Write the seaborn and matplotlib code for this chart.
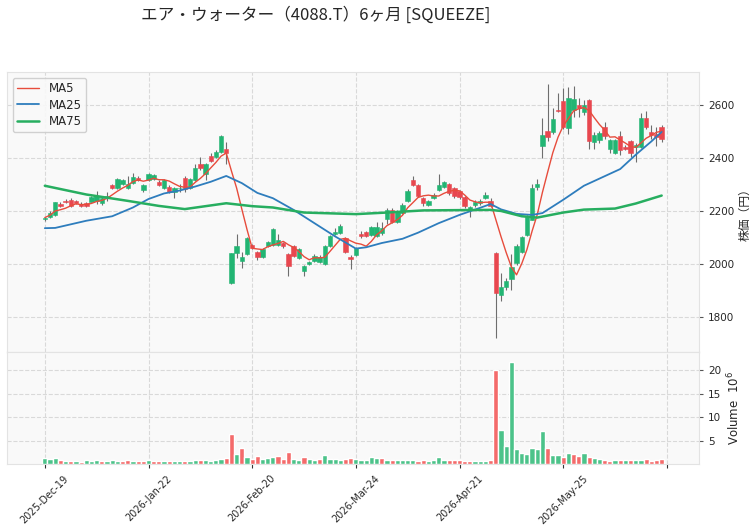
import numpy as np
import pandas as pd
import matplotlib
matplotlib.use("Agg")
import matplotlib.pyplot as plt
import seaborn as sns

# -----------------------------------------------------
# DATA
# -----------------------------------------------------
TITLE = "エア・ウォーター（4088.T）6ヶ月 [SQUEEZE]"

opens = [2168, 2178, 2183, 2227, 2237, 2242, 2238, 2228, 2231, 2235,
         2239, 2230, 2250, 2296, 2285, 2300, 2287, 2305, 2325, 2280,
         2317, 2320, 2311, 2286, 2292, 2270, 2285, 2326, 2286, 2317,
         2377, 2339, 2408, 2404, 2424, 2434, 1928, 2041, 2010, 2037,
         2070, 2047, 2028, 2068, 2072, 2072, 2078, 2038, 2066, 2022,
         1972, 2001, 2010, 2007, 2001, 2068, 2114, 2116, 2097, 2028,
         2035, 2114, 2122, 2110, 2106, 2116, 2169, 2204, 2160, 2192,
         2236, 2317, 2296, 2248, 2223, 2248, 2280, 2292, 2302, 2287,
         2275, 2252, 2204, 2221, 2229, 2248, 2238, 2041, 1884, 1913,
         1945, 2003, 2047, 2110, 2167, 2290, 2445, 2500, 2497, 2581,
         2613, 2512, 2581, 2600, 2572, 2619, 2460, 2466, 2516, 2434,
         2420, 2483, 2440, 2462, 2440, 2443, 2550, 2499, 2492, 2518]
highs = [2178, 2198, 2235, 2232, 2244, 2248, 2242, 2232, 2235, 2258,
         2277, 2256, 2273, 2302, 2326, 2320, 2330, 2342, 2332, 2300,
         2342, 2340, 2318, 2320, 2296, 2290, 2300, 2330, 2324, 2376,
         2402, 2382, 2418, 2428, 2485, 2459, 2041, 2112, 2047, 2100,
         2075, 2050, 2060, 2085, 2134, 2112, 2082, 2042, 2070, 2060,
         1997, 2010, 2036, 2032, 2070, 2108, 2136, 2150, 2100, 2034,
         2064, 2126, 2126, 2142, 2160, 2160, 2210, 2212, 2205, 2230,
         2282, 2330, 2300, 2252, 2240, 2266, 2338, 2314, 2306, 2292,
         2280, 2256, 2218, 2240, 2244, 2272, 2248, 2046, 1966, 1946,
         2037, 2075, 2106, 2185, 2300, 2320, 2552, 2679, 2590, 2646,
         2663, 2668, 2672, 2625, 2618, 2622, 2498, 2500, 2535, 2470,
         2472, 2500, 2448, 2466, 2455, 2568, 2578, 2525, 2518, 2525]
lows = [2163, 2174, 2180, 2214, 2229, 2214, 2226, 2214, 2216, 2232,
        2227, 2224, 2238, 2282, 2282, 2296, 2284, 2300, 2312, 2270,
        2313, 2316, 2294, 2282, 2268, 2250, 2270, 2270, 2282, 2312,
        2355, 2318, 2386, 2400, 2420, 2376, 1925, 2022, 1984, 2034,
        2058, 2016, 2024, 2064, 2068, 2068, 2062, 1953, 2028, 2018,
        1955, 1995, 2006, 2003, 1998, 2064, 2110, 2112, 2043, 1980,
        2030, 2098, 2100, 2106, 2102, 2110, 2150, 2155, 2155, 2188,
        2232, 2294, 2254, 2217, 2218, 2244, 2276, 2288, 2262, 2250,
        2244, 2212, 2178, 2216, 2224, 2244, 2213, 1721, 1859, 1903,
        1900, 1995, 2040, 2104, 2165, 2280, 2399, 2462, 2490, 2575,
        2508, 2490, 2555, 2555, 2560, 2435, 2435, 2455, 2470, 2420,
        2415, 2410, 2430, 2405, 2385, 2438, 2510, 2470, 2445, 2460]
closes = [2175, 2193, 2232, 2218, 2234, 2220, 2230, 2218, 2220, 2254,
          2257, 2250, 2256, 2287, 2322, 2317, 2301, 2327, 2318, 2298,
          2338, 2336, 2299, 2317, 2273, 2286, 2288, 2283, 2320, 2362,
          2361, 2378, 2390, 2424, 2481, 2418, 2041, 2068, 2028, 2097,
          2062, 2028, 2057, 2081, 2131, 2091, 2066, 1993, 2031, 2056,
          1993, 2007, 2031, 2028, 2066, 2104, 2122, 2145, 2047, 2018,
          2060, 2104, 2106, 2139, 2141, 2135, 2202, 2160, 2198, 2223,
          2277, 2298, 2258, 2229, 2236, 2261, 2298, 2308, 2267, 2255,
          2251, 2219, 2214, 2233, 2238, 2261, 2217, 1890, 1912, 1937,
          1990, 2066, 2100, 2177, 2286, 2302, 2487, 2477, 2546, 2577,
          2516, 2625, 2621, 2587, 2600, 2462, 2488, 2493, 2483, 2466,
          2468, 2428, 2435, 2418, 2450, 2550, 2518, 2487, 2478, 2471]
# volume in millions of shares
volumes = [1.3, 1.2, 1.4, 0.9, 0.7, 0.75, 0.7, 0.55, 0.9, 0.75,
           0.9, 0.7, 0.7, 0.9, 0.7, 0.7, 0.9, 0.7, 0.75, 0.75,
           0.9, 0.75, 0.7, 0.7, 0.7, 0.7, 0.7, 0.75, 0.7, 0.9,
           0.9, 0.9, 0.8, 0.9, 1.1, 1.3, 6.4, 2.1, 3.5, 1.5,
           1.2, 1.8, 1.2, 1.4, 1.6, 1.8, 1.2, 2.6, 1.2, 0.9,
           1.6, 1.2, 1.0, 1.2, 1.9, 1.2, 1.2, 1.0, 1.2, 1.4,
           1.2, 1.0, 0.9, 1.6, 1.4, 1.4, 1.0, 0.9, 0.9, 0.9,
           1.0, 1.0, 0.7, 1.0, 0.8, 1.0, 1.5, 1.0, 0.9, 0.9,
           0.9, 0.8, 0.8, 0.7, 0.7, 0.7, 0.9, 20.0, 7.3, 3.9,
           21.6, 3.25, 2.35, 2.1, 3.45, 3.25, 7.05, 3.45, 2.0, 2.0,
           1.6, 2.4, 2.2, 1.8, 2.4, 1.6, 1.4, 1.1, 1.0, 0.7,
           1.0, 1.0, 1.0, 1.0, 1.0, 1.0, 1.1, 0.7, 1.0, 1.2]

# moving averages 25 / 75 read as (bar index, value) knots
ma25_idx = [0, 2, 8, 13, 17, 20, 23, 26, 29, 32, 35, 38, 41, 44, 48, 52,
            56, 60, 62, 65, 69, 72, 76, 80, 84, 86, 88, 91, 94, 96, 100,
            104, 111, 114, 117, 119]
ma25_val = [2135, 2136, 2163, 2180, 2213, 2245, 2266, 2277, 2292, 2310,
            2332, 2305, 2268, 2248, 2204, 2154, 2104, 2058, 2063, 2079,
            2095, 2118, 2154, 2185, 2212, 2226, 2206, 2189, 2185, 2192,
            2242, 2295, 2358, 2412, 2462, 2498]
ma75_idx = [0, 8, 16, 22, 27, 35, 40, 44, 50, 60, 66, 73, 86, 88, 92, 95,
            100, 104, 110, 114, 119]
ma75_val = [2295, 2262, 2238, 2219, 2207, 2229, 2218, 2213, 2194, 2188,
            2194, 2202, 2204, 2200, 2180, 2175, 2194, 2205, 2209, 2228,
            2258]

tick_pos = [0, 20, 40, 60, 80, 100, 120]
tick_labels = ["2025-Dec-19", "2026-Jan-22", "2026-Feb-20", "2026-Mar-24",
               "2026-Apr-21", "2026-May-25", ""]

# -----------------------------------------------------
# PREP
# -----------------------------------------------------
df = pd.DataFrame({"Open": opens, "High": highs, "Low": lows,
                   "Close": closes, "Volume": volumes})
df["x"] = np.arange(len(df))
df["MA5"] = df["Close"].rolling(5, min_periods=1).mean()
up = df["Close"] >= df["Open"]
vol_up = df["Close"].diff().fillna(1) >= 0

UP_C = "#22b573"
DN_C = "#e8474f"
VUP_C = "#4cc38a"
VDN_C = "#f46b6b"

sns.set_style("whitegrid", {"axes.facecolor": "#f9f9f9",
                            "grid.color": "#d9d9d9",
                            "grid.linestyle": "--",
                            "axes.edgecolor": "#e3e3e3"})
plt.rcParams["font.family"] = ["DejaVu Sans", "Noto Sans CJK JP"]

fig = plt.figure(figsize=(7.52, 5.26), dpi=100)
ax = fig.add_axes([0.0093, 0.3308, 0.9202, 0.5323])
axv = fig.add_axes([0.0093, 0.1173, 0.9202, 0.2135], sharex=ax)

# -----------------------------------------------------
# CANDLES
# -----------------------------------------------------
body_h = (df["Close"] - df["Open"]).abs().clip(lower=3)
body_b = df[["Open", "Close"]].min(axis=1)
ax.vlines(df["x"], df["Low"], df["High"], color="#6e6e6e", lw=0.8, zorder=2)
ax.bar(df["x"][up], body_h[up], bottom=body_b[up], width=0.85,
       color=UP_C, edgecolor=UP_C, linewidth=0.4, zorder=3)
ax.bar(df["x"][~up], body_h[~up], bottom=body_b[~up], width=0.85,
       color=DN_C, edgecolor=DN_C, linewidth=0.4, zorder=3)

sns.lineplot(x=df["x"], y=df["MA5"], ax=ax, color="#e74c3c", lw=1.0,
             label="MA5", zorder=4)
sns.lineplot(x=ma25_idx, y=ma25_val, ax=ax, color="#2e7dbd", lw=1.3,
             label="MA25", zorder=4)
sns.lineplot(x=ma75_idx, y=ma75_val, ax=ax, color="#27ae60", lw=1.8,
             label="MA75", zorder=4)

ax.set_ylim(1668, 2724)
ax.set_xlim(-7.3, 126.2)
ax.set_yticks([1800, 2000, 2200, 2400, 2600])
ax.yaxis.tick_right()
ax.yaxis.set_label_position("right")
ax.set_ylabel("株価（円）", fontsize=8.5, family=["Noto Sans CJK JP"], labelpad=3)
ax.set_xlabel("")
ax.tick_params(axis="y", labelsize=7.5, length=3, color="#555555")
ax.tick_params(axis="x", bottom=False, labelbottom=False)
ax.legend(loc="upper left", fontsize=8.5, frameon=True, framealpha=0.9,
          edgecolor="#cccccc", borderpad=0.35, handlelength=1.9,
          labelspacing=0.3, borderaxespad=0.5)

# -----------------------------------------------------
# VOLUME
# -----------------------------------------------------
axv.bar(df["x"], df["Volume"], width=1.0,
        color=np.where(vol_up, VUP_C, VDN_C), zorder=3)
axv.set_ylim(0, 23.8)
axv.set_yticks([5, 10, 15, 20])
axv.yaxis.tick_right()
axv.yaxis.set_label_position("right")
axv.set_ylabel("Volume  $10^6$", fontsize=8.5, labelpad=3)
axv.tick_params(axis="y", labelsize=7.5, length=3, color="#555555")
axv.set_xticks(tick_pos)
axv.set_xticklabels(tick_labels, rotation=45, ha="center", fontsize=7)
axv.tick_params(axis="x", length=3, color="#333333", bottom=True)

fig.text(0.42, 0.971, TITLE, ha="center", va="center", fontsize=12,
         family=["Noto Sans CJK JP", "DejaVu Sans"])

fig.savefig("out.png", dpi=100)
